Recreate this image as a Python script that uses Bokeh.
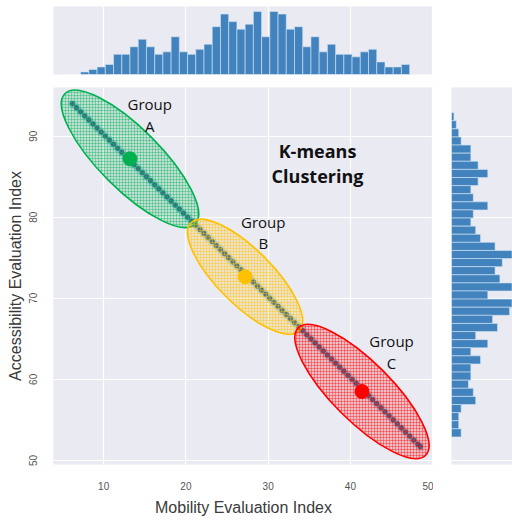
import numpy as np
from bokeh.plotting import figure
from bokeh.models import Range1d, ColumnDataSource
from bokeh.layouts import column, row
from bokeh.core.properties import value
from bokeh.embed import file_html
from bokeh.resources import INLINE

# ---------------- data ----------------
scatter_x = [6.2, 6.7, 7.2, 7.7, 8.2, 8.7, 9.2, 9.7, 10.2, 10.7, 11.2, 11.7, 12.2, 12.7,
             13.2, 13.7, 14.2, 14.7, 15.2, 15.7, 16.2, 16.7, 17.2, 17.7, 18.2, 18.7, 19.2,
             19.7, 20.2, 20.7, 21.2, 21.7, 22.2, 22.7, 23.2, 23.7, 24.2, 24.7, 25.2, 25.7,
             26.2, 26.7, 27.2, 27.7, 28.2, 28.7, 29.2, 29.7, 30.2, 30.7, 31.2, 31.7, 32.2,
             32.7, 33.2, 33.7, 34.2, 34.7, 35.2, 35.7, 36.2, 36.7, 37.2, 37.7, 38.2, 38.7,
             39.2, 39.7, 40.2, 40.7, 41.2, 41.7, 42.2, 42.7, 43.2, 43.7, 44.2, 44.7, 45.2,
             45.7, 46.2, 46.7, 47.2, 47.7, 48.2, 48.5]
scatter_y = [94.0, 93.5, 93.0, 92.5, 92.0, 91.5, 91.0, 90.5, 90.0, 89.5, 89.0, 88.5, 88.0, 87.5,
             87.0, 86.5, 86.0, 85.5, 85.0, 84.5, 84.0, 83.5, 83.0, 82.5, 82.0, 81.5, 81.0,
             80.5, 80.0, 79.5, 79.0, 78.5, 78.0, 77.5, 77.0, 76.5, 76.0, 75.5, 75.0, 74.5,
             74.0, 73.5, 73.0, 72.5, 72.0, 71.5, 71.0, 70.5, 70.0, 69.5, 69.0, 68.5, 68.0,
             67.5, 67.0, 66.5, 66.0, 65.5, 65.0, 64.5, 64.0, 63.5, 63.0, 62.5, 62.0, 61.5,
             61.0, 60.5, 60.0, 59.5, 59.0, 58.5, 58.0, 57.5, 57.0, 56.5, 56.0, 55.5, 55.0,
             54.5, 54.0, 53.5, 53.0, 52.5, 52.0, 51.7]

x_bin_centers = [7.7, 8.7, 9.7, 10.7, 11.7, 12.7, 13.7, 14.7, 15.7, 16.7, 17.7, 18.7, 19.7,
                 20.7, 21.7, 22.7, 23.7, 24.7, 25.7, 26.7, 27.7, 28.7, 29.7, 30.7, 31.7, 32.7,
                 33.7, 34.7, 35.7, 36.7, 37.7, 38.7, 39.7, 40.7, 41.7, 42.7, 43.7, 44.7, 45.7, 46.7]
x_counts = [1, 2, 3, 4, 8, 8, 11, 14, 11, 8, 9, 15, 9, 8, 10, 12, 19, 24, 21, 18, 20, 25, 15,
            25, 24, 18, 19, 11, 15, 9, 12, 8, 8, 7, 9, 10, 5, 3, 3, 4]

y_bin_centers = [92.4, 91.4, 90.4, 89.4, 88.4, 87.4, 86.4, 85.4, 84.4, 83.4, 82.4, 81.4, 80.4,
                 79.4, 78.4, 77.4, 76.4, 75.4, 74.4, 73.4, 72.4, 71.4, 70.4, 69.4, 68.4, 67.4,
                 66.4, 65.4, 64.4, 63.4, 62.4, 61.4, 60.4, 59.4, 58.4, 57.4, 56.4, 55.4, 54.4, 53.4]
y_counts = [1, 2, 3, 4, 8, 8, 11, 15, 11, 8, 9, 15, 9, 8, 10, 12, 18, 25, 21, 18, 20, 25, 15,
            25, 24, 17, 19, 10, 15, 8, 12, 8, 8, 7, 9, 10, 4, 3, 3, 4]

groups = ["Group\nA", "Group\nB", "Group\nC"]
centroid_x = [13.2, 27.2, 41.4]
centroid_y = [87.2, 72.65, 58.5]
ellipse_major = [22.4, 18.6, 21.9]
ellipse_minor = [7.5, 6.8, 7.3]
group_colors = ["#00b050", "#ffc000", "#ff0000"]
label_x = [15.6, 29.4, 45.0]
label_y = [92.6, 78.1, 63.4]

x_ticks = [10, 20, 30, 40, 50]
y_ticks = [50, 60, 70, 80, 90]

BG = "#eaeaf2"
BAR = "#4383bd"
TICK_FONT = "Liberation Sans"

xr = Range1d(3.9, 50.1)
yr = Range1d(49.5, 96.0)

# ---------------- main ----------------
p = figure(width=433, height=431, x_range=xr, y_range=yr, output_backend="svg",
           toolbar_location=None, min_border_left=53, min_border_right=0,
           min_border_top=0, min_border_bottom=45, background_fill_color=BG,
           outline_line_color=None, border_fill_color="white")
p.xaxis.ticker = x_ticks
p.yaxis.ticker = y_ticks
p.grid.grid_line_color = "white"
p.grid.grid_line_width = 1.2
for ax in (p.xaxis[0], p.yaxis[0]):
    ax.axis_line_color = None
    ax.major_tick_line_color = None
    ax.minor_tick_line_color = None
    ax.major_label_text_font = TICK_FONT
    ax.major_label_text_font_size = "10px"
    ax.major_label_text_color = "#555555"
    ax.axis_label_text_font = TICK_FONT
    ax.axis_label_text_font_size = "16px"
    ax.axis_label_text_font_style = "normal"
    ax.axis_label_text_color = "#3a3a3a"
p.xaxis.axis_label = "Mobility Evaluation Index"
p.yaxis.axis_label = "Accessibility Evaluation Index"
p.xaxis.major_label_standoff = 11
p.xaxis.axis_label_standoff = 6
p.yaxis.major_label_standoff = 10
p.yaxis.axis_label_standoff = 3
p.yaxis.major_label_orientation = "vertical"

pts = ColumnDataSource(dict(x=scatter_x, y=scatter_y))
p.scatter("x", "y", source=pts, size=9, fill_color="#8cc3df", fill_alpha=0.45, line_color=None)
p.scatter("x", "y", source=pts, size=4.8, fill_color="#2b5a82", fill_alpha=0.85,
          line_color="#1f4766", line_width=0.5)

ell = ColumnDataSource(dict(x=centroid_x, y=centroid_y, w=ellipse_major, h=ellipse_minor,
                            c=group_colors))
p.ellipse(x="x", y="y", width="w", height="h", angle=-np.pi / 4, source=ell,
          fill_color="c", fill_alpha=0.18, line_color="c", line_width=1.6,
          hatch_pattern="+", hatch_color="c", hatch_alpha=0.45, hatch_scale=3,
          hatch_weight=0.8)

p.scatter(x="x", y="y", source=ell, size=14, fill_color="c", line_color="c")

lab = ColumnDataSource(dict(x=label_x, y=label_y, t=groups))
p.text(x="x", y="y", text="t", source=lab, text_align="center", text_baseline="middle",
       text_font=value("Open Sans"), text_font_size="15px", text_color="#111111",
       text_line_height=1.08)
p.text(x=[36.0], y=[86.6], text=["K-means\nClustering"], text_align="center",
       text_baseline="middle", text_font=value("Open Sans"), text_font_size="18px",
       text_font_style="bold", text_color="#111111", text_line_height=1.05)

# ---------------- top histogram ----------------
top = figure(width=433, height=87, x_range=xr, y_range=Range1d(0, 27.0),
             output_backend="svg", toolbar_location=None, min_border_left=53,
             min_border_right=0, min_border_top=6, min_border_bottom=13,
             background_fill_color=BG, outline_line_color=None)
top.axis.visible = False
top.xgrid.ticker = x_ticks
top.xgrid.grid_line_color = "white"
top.xgrid.grid_line_width = 1.2
top.ygrid.grid_line_color = None
top.vbar(x=x_bin_centers, top=x_counts, bottom=0, width=1.0, fill_color=BAR,
         line_color="#d4e6f5", line_width=0.6)

# ---------------- right histogram ----------------
side = figure(width=79, height=431, x_range=Range1d(0, 25.2), y_range=yr,
              output_backend="svg", toolbar_location=None, min_border_left=18,
              min_border_right=0, min_border_top=0, min_border_bottom=45,
              background_fill_color=BG, outline_line_color=None)
side.axis.visible = False
side.ygrid.ticker = y_ticks
side.ygrid.grid_line_color = "white"
side.ygrid.grid_line_width = 1.2
side.xgrid.grid_line_color = None
side.hbar(y=y_bin_centers, right=y_counts, left=0, height=1.0, fill_color=BAR,
          line_color="#d4e6f5", line_width=0.6)

layout = column(top, row(p, side))
open("out.html", "w").write(file_html(layout, INLINE))
